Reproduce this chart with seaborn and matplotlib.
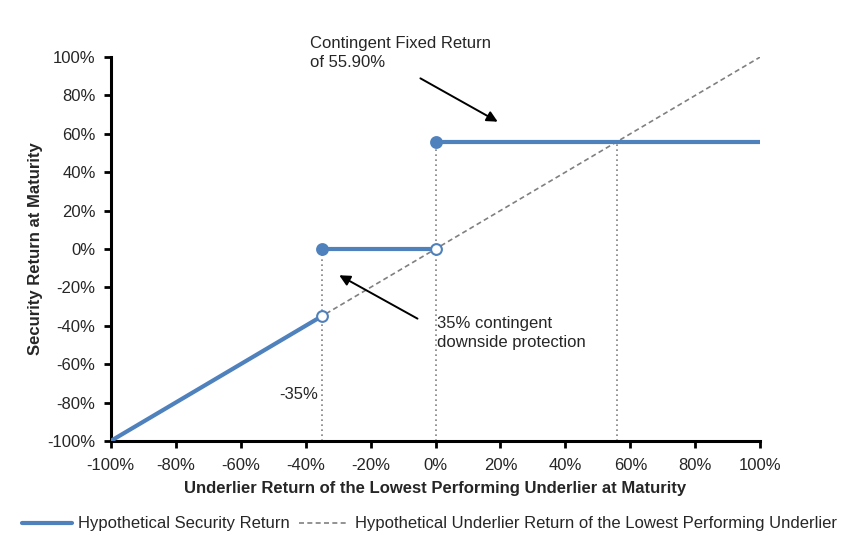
import numpy as np
import pandas as pd
import matplotlib
matplotlib.use("Agg")
import matplotlib.pyplot as plt
import seaborn as sns
from matplotlib.ticker import PercentFormatter
from matplotlib.lines import Line2D

sns.set_style("white")
plt.rcParams['font.family'] = ['Liberation Sans', 'DejaVu Sans']
plt.rcParams['axes.unicode_minus'] = False

# data
barrier = -35
fixed_return = 55.90
seg_id = [0, 0, 1, 1, 2, 2]
seg_x = [-100, -35, -35, 0, 0, 100]
seg_y = [-100, -35, 0, 0, 55.90, 55.90]
under_x = [-100, 100]
under_y = [-100, 100]
filled_x = [-35, 0]
filled_y = [0, 55.90]
hollow_x = [-35, 0]
hollow_y = [-35, 0]
ticks = [-100, -80, -60, -40, -20, 0, 20, 40, 60, 80, 100]

blue = "#4F81BD"
gray = "#808080"

fig = plt.figure(figsize=(8.59, 5.43), dpi=100)
ax = fig.add_axes([0.129, 0.188, 0.756, 0.707])

# dotted guides
ax.vlines([barrier, 0, fixed_return], -100, [0, fixed_return, fixed_return],
          colors=gray, linestyles=(0, (1, 2)), linewidth=1.2, zorder=1)

sns.lineplot(x=under_x, y=under_y, ax=ax, color=gray, linewidth=1.2,
             linestyle=(0, (3, 2)), zorder=2)

df = pd.DataFrame({"seg": seg_id, "x": seg_x, "y": seg_y})
sns.lineplot(data=df, x="x", y="y", units="seg", estimator=None, ax=ax,
             color=blue, linewidth=3, zorder=3, sort=False)

sns.scatterplot(x=filled_x, y=filled_y, ax=ax, color=blue, s=60,
                edgecolor=blue, linewidth=1.5, zorder=4)
sns.scatterplot(x=hollow_x, y=hollow_y, ax=ax, color="white", s=60,
                edgecolor=blue, linewidth=1.5, zorder=4)

ax.set_xlim(-100, 100)
ax.set_ylim(-100, 100)
ax.set_xticks(ticks)
ax.set_yticks(ticks)
ax.xaxis.set_major_formatter(PercentFormatter(decimals=0))
ax.yaxis.set_major_formatter(PercentFormatter(decimals=0))
ax.tick_params(axis="both", direction="out", length=5, width=2, color="black",
               labelsize=12, left=True, bottom=True)
ax.tick_params(axis="y", pad=6)
ax.tick_params(axis="x", pad=7)
for s in ["top", "right"]:
    ax.spines[s].set_visible(False)
for s in ["left", "bottom"]:
    ax.spines[s].set_color("black")
    ax.spines[s].set_linewidth(2.2)

ax.set_xlabel("Underlier Return of the Lowest Performing Underlier at Maturity",
              fontsize=12, fontweight="bold", labelpad=6)
ax.set_ylabel("Security Return at Maturity", fontsize=12, fontweight="bold",
              labelpad=3)

# annotations
ax.text(-38.7, 111, "Contingent Fixed Return\nof 55.90%", fontsize=12,
        va="top", ha="left", clip_on=False, linespacing=1.3)
ax.annotate("", xy=(19.9, 65.6), xytext=(-5.4, 89.6),
            arrowprops=dict(arrowstyle="-|>", color="black", lw=1.4,
                            mutation_scale=16))
ax.annotate("", xy=(-30.4, -13), xytext=(-4.8, -37),
            arrowprops=dict(arrowstyle="-|>", color="black", lw=1.4,
                            mutation_scale=16))
ax.text(0.6, -35, "35% contingent\ndownside protection", fontsize=12,
        va="top", ha="left", linespacing=1.3)
ax.text(-36.3, -76, "-35%", fontsize=12, va="center", ha="right")

handles = [Line2D([], [], color=blue, linewidth=3),
           Line2D([], [], color=gray, linewidth=1.2, linestyle=(0, (3, 2)))]
labels = ["Hypothetical Security Return",
          "Hypothetical Underlier Return of the Lowest Performing Underlier"]
fig.legend(handles, labels, loc="center", bbox_to_anchor=(0.5, 0.035),
           ncol=2, frameon=False, fontsize=12, handlelength=3.0,
           columnspacing=0.5, handletextpad=0.4)

fig.savefig("out.png", dpi=100)
